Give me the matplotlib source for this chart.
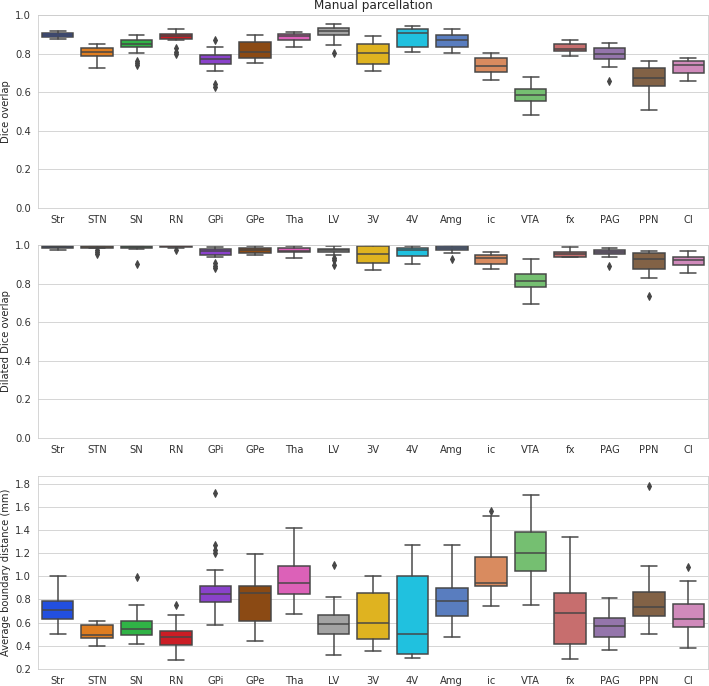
import matplotlib
matplotlib.use("Agg")
import matplotlib.pyplot as plt
import seaborn as sns

regions = ["Str", "STN", "SN", "RN", "GPi", "GPe", "Tha", "LV", "3V", "4V",
           "Amg", "ic", "VTA", "fx", "PAG", "PPN", "Cl"]

# summary stats per region: whislo, q1, med, q3, whishi
dice_stats = [
    (0.877, 0.884, 0.898, 0.908, 0.917),
    (0.728, 0.787, 0.810, 0.829, 0.849),
    (0.801, 0.834, 0.851, 0.870, 0.896),
    (0.870, 0.875, 0.889, 0.901, 0.927),
    (0.709, 0.746, 0.774, 0.792, 0.834),
    (0.751, 0.777, 0.810, 0.860, 0.896),
    (0.834, 0.870, 0.891, 0.901, 0.912),
    (0.844, 0.896, 0.917, 0.933, 0.953),
    (0.709, 0.746, 0.805, 0.849, 0.891),
    (0.808, 0.834, 0.907, 0.927, 0.943),
    (0.803, 0.834, 0.870, 0.896, 0.927),
    (0.663, 0.704, 0.737, 0.777, 0.803),
    (0.481, 0.553, 0.585, 0.616, 0.678),
    (0.787, 0.813, 0.822, 0.849, 0.870),
    (0.730, 0.772, 0.797, 0.829, 0.855),
    (0.509, 0.631, 0.673, 0.725, 0.761),
    (0.657, 0.702, 0.740, 0.761, 0.775),
]
dice_fliers = [[], [], [0.76, 0.75, 0.74], [0.83, 0.81, 0.80],
               [0.869, 0.64, 0.625], [], [], [0.801], [], [], [], [], [],
               [], [0.656], [], []]

dilated_stats = [
    (0.973, 0.983, 0.990, 0.995, 0.997),
    (0.985, 0.987, 0.992, 0.997, 0.998),
    (0.978, 0.985, 0.990, 0.995, 0.997),
    (0.986, 0.990, 0.993, 0.998, 0.999),
    (0.936, 0.948, 0.967, 0.978, 0.992),
    (0.950, 0.959, 0.974, 0.987, 0.995),
    (0.931, 0.962, 0.971, 0.985, 0.995),
    (0.950, 0.962, 0.973, 0.981, 0.995),
    (0.869, 0.905, 0.955, 0.995, 0.998),
    (0.902, 0.943, 0.974, 0.985, 0.995),
    (0.959, 0.973, 0.986, 0.993, 0.998),
    (0.874, 0.902, 0.933, 0.948, 0.964),
    (0.694, 0.781, 0.813, 0.852, 0.928),
    (0.936, 0.940, 0.955, 0.964, 0.990),
    (0.940, 0.952, 0.964, 0.974, 0.987),
    (0.827, 0.874, 0.928, 0.957, 0.969),
    (0.855, 0.896, 0.921, 0.938, 0.967),
]
dilated_fliers = [[], [0.975, 0.965, 0.955], [0.903], [0.975],
                  [0.905, 0.89, 0.88], [], [], [0.935, 0.925, 0.895], [], [],
                  [0.929], [], [], [], [0.890], [0.736], []]

dist_stats = [
    (0.503, 0.633, 0.705, 0.789, 1.000),
    (0.402, 0.469, 0.490, 0.581, 0.616),
    (0.417, 0.497, 0.549, 0.610, 0.749),
    (0.278, 0.411, 0.480, 0.529, 0.662),
    (0.581, 0.780, 0.844, 0.919, 1.052),
    (0.443, 0.616, 0.853, 0.919, 1.191),
    (0.677, 0.844, 0.939, 1.092, 1.413),
    (0.324, 0.506, 0.590, 0.668, 0.818),
    (0.356, 0.463, 0.599, 0.858, 1.000),
    (0.298, 0.333, 0.506, 1.000, 1.269),
    (0.480, 0.656, 0.783, 0.902, 1.269),
    (0.740, 0.919, 0.939, 1.162, 1.520),
    (0.755, 1.043, 1.199, 1.381, 1.702),
    (0.290, 0.419, 0.679, 0.853, 1.338),
    (0.368, 0.480, 0.570, 0.636, 0.815),
    (0.506, 0.653, 0.731, 0.867, 1.087),
    (0.385, 0.558, 0.627, 0.763, 0.957),
]
dist_fliers = [[], [], [0.997], [0.752], [1.266, 1.228, 1.200, 1.722], [],
               [], [1.098], [], [], [], [1.563], [], [], [], [1.783], [1.081]]

sns.set_style("whitegrid")

palette = sns.color_palette("bright", 10) + sns.color_palette("muted", 7)
palette = [sns.desaturate(c, 0.75) for c in palette]
line_col = "#464646"


def draw(ax, stats, fliers):
    bxp = []
    for lab, s, f in zip(regions, stats, fliers):
        bxp.append(dict(label=lab, whislo=s[0], q1=s[1], med=s[2],
                        q3=s[3], whishi=s[4], fliers=f))
    art = ax.bxp(bxp, positions=range(len(regions)), widths=0.8,
                 patch_artist=True,
                 boxprops=dict(edgecolor=line_col, linewidth=1.5),
                 medianprops=dict(color=line_col, linewidth=1.5),
                 whiskerprops=dict(color=line_col, linewidth=1.5),
                 capprops=dict(color=line_col, linewidth=1.5),
                 flierprops=dict(marker="d", markerfacecolor=line_col,
                                 markeredgecolor=line_col, markersize=5))
    for patch, c in zip(art["boxes"], palette):
        patch.set_facecolor(c)
    ax.set_xlim(-0.5, len(regions) - 0.5)
    ax.xaxis.grid(False)
    ax.tick_params(labelsize=10, colors="#333333")


fig = plt.figure(figsize=(709 / 72, 686 / 72), dpi=72)
ax1 = fig.add_axes([0.0536, 0.6968, 0.945, 0.2813])
ax2 = fig.add_axes([0.0536, 0.3615, 0.945, 0.2813])
ax3 = fig.add_axes([0.0536, 0.0248, 0.945, 0.2813])

draw(ax1, dice_stats, dice_fliers)
ax1.set_ylim(0, 1)
ax1.set_ylabel("Dice overlap", fontsize=10)
ax1.set_title("Manual parcellation", fontsize=12)

draw(ax2, dilated_stats, dilated_fliers)
ax2.set_ylim(0, 1)
ax2.set_ylabel("Dilated Dice overlap", fontsize=10)

draw(ax3, dist_stats, dist_fliers)
ax3.set_ylim(0.2, 1.865)
ax3.set_yticks([0.2, 0.4, 0.6, 0.8, 1.0, 1.2, 1.4, 1.6, 1.8])
ax3.set_ylabel("Average boundary distance (mm)", fontsize=10)

fig.savefig("out.png", dpi=72)
